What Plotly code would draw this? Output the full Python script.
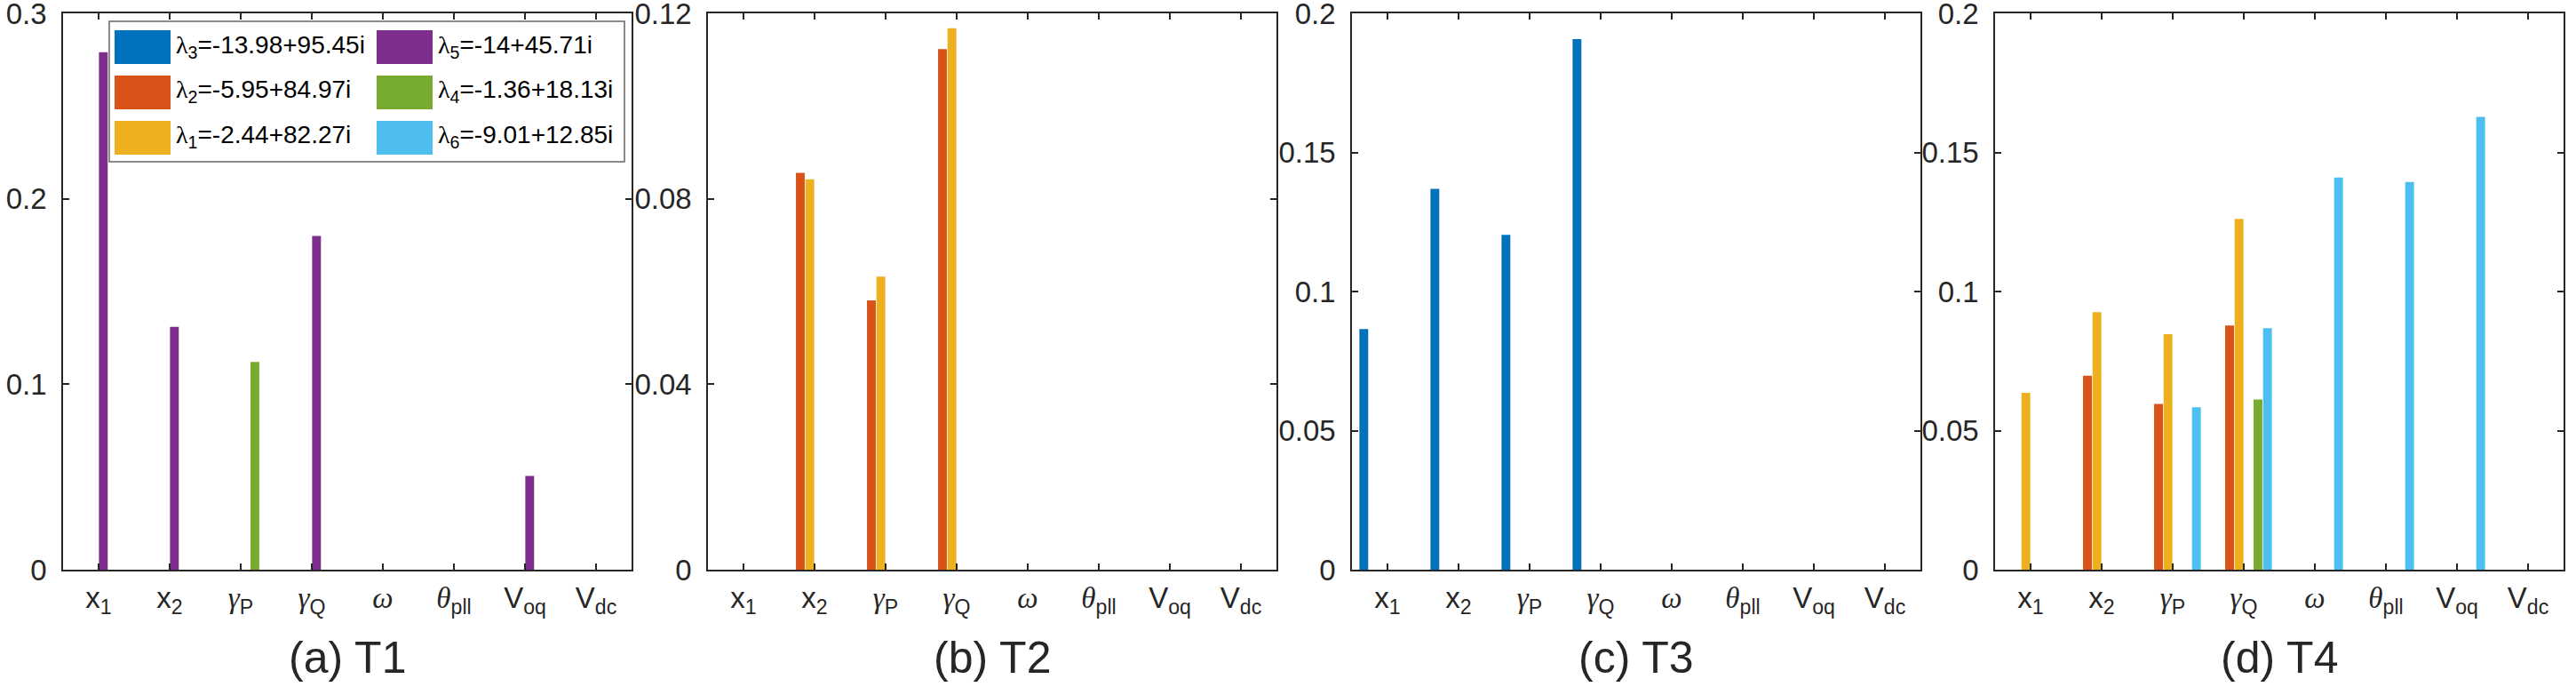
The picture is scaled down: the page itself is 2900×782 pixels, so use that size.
import plotly.graph_objects as go

# ---------------- data ----------------
SERIF = '<span style="font-family:Liberation Serif">'
categories = ["x<sub>1</sub>", "x<sub>2</sub>",
              SERIF + "<i>γ</i></span><sub>P</sub>", SERIF + "<i>γ</i></span><sub>Q</sub>",
              SERIF + "<i>ω</i></span>", SERIF + "<i>θ</i></span><sub>pll</sub>",
              "V<sub>oq</sub>", "V<sub>dc</sub>"]

series_names = [SERIF + "λ</span><sub>3</sub>=-13.98+95.45i", SERIF + "λ</span><sub>2</sub>=-5.95+84.97i",
                SERIF + "λ</span><sub>1</sub>=-2.44+82.27i", SERIF + "λ</span><sub>5</sub>=-14+45.71i",
                SERIF + "λ</span><sub>4</sub>=-1.36+18.13i", SERIF + "λ</span><sub>6</sub>=-9.01+12.85i"]
series_colors = ["#0072BD", "#D95319", "#EDB120", "#7E2F8E", "#77AC30", "#4DBEEE"]

# values: one list per series (order as series_names), one entry per category
t1_values = [
    [0, 0, 0, 0, 0, 0, 0, 0],
    [0, 0, 0, 0, 0, 0, 0, 0],
    [0, 0, 0, 0, 0, 0, 0, 0],
    [0.279, 0.131, 0, 0.180, 0, 0, 0.0506, 0],
    [0, 0, 0.112, 0, 0, 0, 0, 0],
    [0, 0, 0, 0, 0, 0, 0, 0],
]
t2_values = [
    [0, 0, 0, 0, 0, 0, 0, 0],
    [0, 0.0856, 0.0581, 0.1123, 0, 0, 0, 0],
    [0, 0.0842, 0.0632, 0.1168, 0, 0, 0, 0],
    [0, 0, 0, 0, 0, 0, 0, 0],
    [0, 0, 0, 0, 0, 0, 0, 0],
    [0, 0, 0, 0, 0, 0, 0, 0],
]
t3_values = [
    [0.0865, 0.1369, 0.1204, 0.1907, 0, 0, 0, 0],
    [0, 0, 0, 0, 0, 0, 0, 0],
    [0, 0, 0, 0, 0, 0, 0, 0],
    [0, 0, 0, 0, 0, 0, 0, 0],
    [0, 0, 0, 0, 0, 0, 0, 0],
    [0, 0, 0, 0, 0, 0, 0, 0],
]
t4_values = [
    [0, 0, 0, 0, 0, 0, 0, 0],
    [0, 0.0697, 0.0596, 0.0878, 0, 0, 0, 0],
    [0.0636, 0.0926, 0.0847, 0.1261, 0, 0, 0, 0],
    [0, 0, 0, 0, 0, 0, 0, 0],
    [0, 0, 0, 0.0612, 0, 0, 0, 0],
    [0, 0, 0.0584, 0.0868, 0.141, 0.1394, 0.1628, 0],
]
panel_values = [t1_values, t2_values, t3_values, t4_values]
panel_titles = ["(a) T1", "(b) T2", "(c) T3", "(d) T4"]
y_max = [0.3, 0.12, 0.2, 0.2]
y_ticks = [[0, 0.1, 0.2, 0.3], [0, 0.04, 0.08, 0.12],
           [0, 0.05, 0.1, 0.15, 0.2], [0, 0.05, 0.1, 0.15, 0.2]]
y_ticktext = [["0", "0.1", "0.2", "0.3"], ["0", "0.04", "0.08", "0.12"],
              ["0", "0.05", "0.1", "0.15", "0.2"], ["0", "0.05", "0.1", "0.15", "0.2"]]

# ---------------- layout geometry (pixels) ----------------
W, H = 2900, 782
x_px = [(71, 711), (797, 1437), (1522, 2162), (2246, 2886)]
y_top, y_bot = 15, 641
FONT = "Liberation Sans"
AX = "#262626"
TICK_SIZE = 33

fig = go.Figure()
layout = dict(
    width=W, height=H, autosize=False, margin=dict(l=0, r=0, t=0, b=0, pad=0),
    paper_bgcolor="white", plot_bgcolor="white",
    barmode="group", bargap=0.2, bargroupgap=0.07,
    showlegend=False, font=dict(family=FONT, color=AX, size=TICK_SIZE),
)

for p, vals in enumerate(panel_values):
    xa = "x" if p == 0 else f"x{p+1}"
    ya = "y" if p == 0 else f"y{p+1}"
    for s, name in enumerate(series_names):
        fig.add_trace(go.Bar(x=categories, y=vals[s], name=name,
                             marker=dict(color=series_colors[s], line=dict(width=0)),
                             xaxis=xa, yaxis=ya, showlegend=False))
    kx = "xaxis" if p == 0 else f"xaxis{p+1}"
    ky = "yaxis" if p == 0 else f"yaxis{p+1}"
    layout[kx] = dict(domain=[x_px[p][0] / W, x_px[p][1] / W], anchor=ya,
                      type="category", categoryorder="array", categoryarray=categories,
                      range=[-0.5, 7.5], showline=True, linecolor=AX, linewidth=1.5,
                      mirror="ticks", ticks="inside", ticklen=7, tickwidth=1.5, tickcolor=AX,
                      showgrid=False, zeroline=False, fixedrange=True, automargin=False,
                      ticklabeloverflow="allow",
                      tickfont=dict(family=FONT, size=TICK_SIZE, color=AX), ticklabelstandoff=2)
    layout[ky] = dict(domain=[1 - y_bot / H, 1 - y_top / H], anchor=xa,
                      range=[0, y_max[p]], tickmode="array",
                      tickvals=y_ticks[p], ticktext=y_ticktext[p],
                      showline=True, linecolor=AX, linewidth=1.5,
                      mirror="ticks", ticks="inside", ticklen=7, tickwidth=1.5, tickcolor=AX,
                      showgrid=False, zeroline=False, fixedrange=True, automargin=False,
                      ticklabeloverflow="allow",
                      tickfont=dict(family=FONT, size=TICK_SIZE, color=AX), ticklabelstandoff=10)

fig.update_layout(**layout)

# captions
for p, title in enumerate(panel_titles):
    cx = (x_px[p][0] + x_px[p][1]) / 2 / W
    fig.add_annotation(text=title, x=cx, y=1 - 740 / H, xref="paper", yref="paper",
                       xanchor="center", yanchor="middle", showarrow=False,
                       font=dict(family=FONT, size=50, color=AX))

# legend (inside panel a), built from the series lists
leg_box = (123, 24, 703, 182)
fig.add_shape(type="rect", xref="paper", yref="paper",
              x0=leg_box[0] / W, x1=leg_box[2] / W, y0=1 - leg_box[3] / H, y1=1 - leg_box[1] / H,
              line=dict(color="#666666", width=1.5), fillcolor="white", layer="above")
col_x = [129, 424]
row_y = [34, 85, 136]
sw_w, sw_h = 63, 38
for s, name in enumerate(series_names):
    c, r = divmod(s, 3)
    x0, y0 = col_x[c], row_y[r]
    fig.add_shape(type="rect", xref="paper", yref="paper",
                  x0=x0 / W, x1=(x0 + sw_w) / W, y0=1 - (y0 + sw_h) / H, y1=1 - y0 / H,
                  line=dict(width=0), fillcolor=series_colors[s], layer="above")
    fig.add_annotation(text=name, x=(x0 + sw_w + 4) / W, y=1 - (y0 + 18) / H,
                       xref="paper", yref="paper", xanchor="left", yanchor="middle",
                       showarrow=False, font=dict(family=FONT, size=28, color="black"))

fig.write_html("out.html")
